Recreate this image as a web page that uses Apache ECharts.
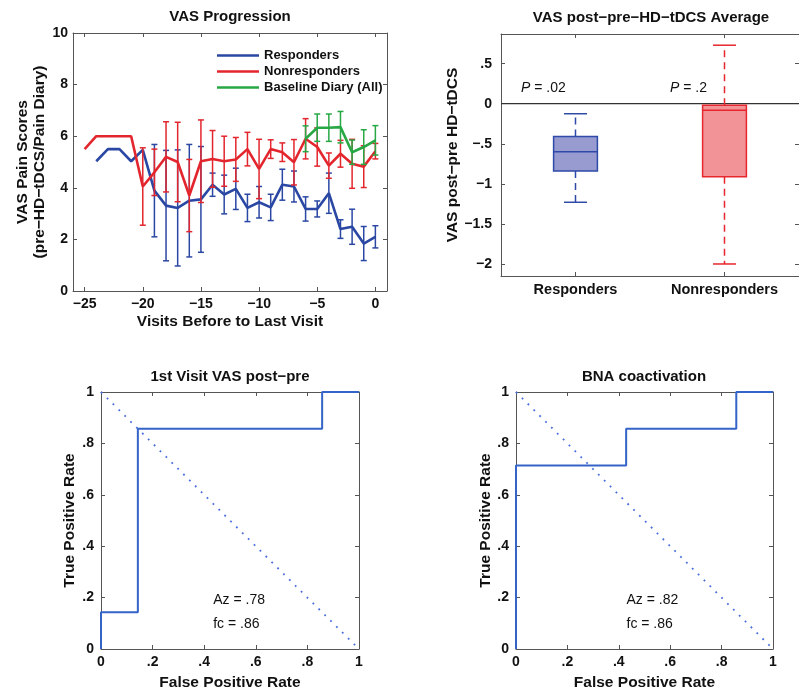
<!DOCTYPE html>
<html><head><meta charset="utf-8">
<script src="https://cdn.jsdelivr.net/npm/echarts@6/dist/echarts.min.js"></script>
<style>html,body{margin:0;padding:0;background:#fff}#c{width:799px;height:692px}</style>
</head><body><div id="c"></div>
<script>
// ---------- DATA ----------
const visits = [-25,-24,-23,-22,-21,-20,-19,-18,-17,-16,-15,-14,-13,-12,-11,-10,-9,-8,-7,-6,-5,-4,-3,-2,-1,0];
const respMean = [null,5.03,5.5,5.5,5.03,5.47,3.89,3.31,3.22,3.5,3.55,4.12,3.74,3.96,3.22,3.44,3.24,4.12,4.05,3.18,3.18,3.79,2.4,2.49,1.84,2.1];
const respErr  = [null,null,null,null,null,null,1.79,2.14,2.25,2.18,2.05,0.45,0.75,0.8,0.53,0.61,0.51,0.6,0.6,0.47,0.31,0.78,0.36,0.68,0.66,0.43];
const nonMean  = [5.5,6.0,6.0,6.0,6.0,4.05,4.6,5.2,5.0,3.7,5.03,5.12,5.03,5.1,5.5,4.73,5.5,5.38,4.99,5.9,5.58,4.86,5.32,4.93,4.82,5.42];
const nonErr   = [null,null,null,null,null,1.5,0.9,1.36,1.54,1.4,1.6,1.1,0.97,0.85,0.65,1.15,0.36,0.36,0.88,0.78,0.74,0.49,0.52,0.95,0.81,0.3];
const baseVisits = [-6,-5,-4,-3,-2,-1,0];
const baseMean = [5.9,6.33,6.33,6.35,5.38,5.58,5.84];
const baseErr  = [0.5,0.53,0.53,0.61,0.47,0.67,0.57];
const progXTicks = [-25,-20,-15,-10,-5,0];

const boxGroups = ['Responders','Nonresponders'];
// [min, Q1, median, Q3, max]
const boxResp = [-1.23,-0.84,-0.6,-0.41,-0.125];
const boxNon  = [-2.0,-0.91,-0.08,-0.02,0.73];
const boxYTicks = [-2,-1.5,-1,-0.5,0,0.5];
const refLine = [0];

const rocVisitFPR = [0,0,1/7,1/7,6/7,6/7,1];
const rocVisitTPR = [0,1/7,1/7,6/7,6/7,1,1];
const rocBnaFPR = [0,0,3/7,3/7,6/7,6/7,1];
const rocBnaTPR = [0,5/7,5/7,6/7,6/7,1,1];
const chanceFPR = [0,1];
const chanceTPR = [1,0];

// ---------- STYLE ----------
const FF = '"Liberation Sans", Arial, Helvetica, sans-serif';
const AX = '#555';
const TXT = '#111';
const BLUE = '#2a47a3', RED = '#e3262d', GREEN = '#27a844';
const ROC = '#3564c8', DOT = '#4a6ddc';
const NAME_FS = 15.5;

function mfmt(v){
  let s = String(Math.round(v*1000)/1000);
  let neg = s[0] === '-'; if (neg) s = s.slice(1);
  if (s.startsWith('0.')) s = s.slice(1);
  return (neg ? '\u2212' : '') + s;
}
const pair = (a,b) => a.map((v,i)=>[v,b[i]]);

function axisBase(extra){
  return Object.assign({
    axisLine:{show:true,onZero:false,lineStyle:{color:AX,width:1}},
    axisTick:{show:true,inside:true,length:4,lineStyle:{color:AX,width:1}},
    splitLine:{show:false},
    axisLabel:{fontFamily:FF,fontWeight:'bold',fontSize:14,color:TXT,formatter:mfmt},
    nameTextStyle:{fontFamily:FF,fontWeight:'bold',fontSize:NAME_FS,color:TXT},
    nameLocation:'middle'
  }, extra);
}
function mirror(extra){
  const a = axisBase(extra);
  a.axisLabel = Object.assign({}, a.axisLabel, {show:false});
  return a;
}

function errRender(color){
  return function(params, api){
    const x = api.value(0), m = api.value(1), e = api.value(2);
    const t = api.coord([x, m+e]), b = api.coord([x, m-e]);
    const cw = 3, st = {stroke:color, lineWidth:1.5};
    return {type:'group', children:[
      {type:'line', shape:{x1:t[0],y1:t[1],x2:b[0],y2:b[1]}, style:st},
      {type:'line', shape:{x1:t[0]-cw,y1:t[1],x2:t[0]+cw,y2:t[1]}, style:st},
      {type:'line', shape:{x1:b[0]-cw,y1:b[1],x2:b[0]+cw,y2:b[1]}, style:st}
    ]};
  };
}
function errData(xs, ms, es){
  const out = [];
  xs.forEach((x,i)=>{ if (es[i] != null && ms[i] != null) out.push([x, ms[i], es[i]]); });
  return out;
}

const boxStyles = [
  {stroke:'#2e4aa8', fill:'#979bd0'},
  {stroke:'#e8262d', fill:'#f19397'}
];

const notes = [
  {grid:2, x:0.435, y:0.19, text:'Az = .78'},
  {grid:2, x:0.435, y:0.095, text:'fc = .86'},
  {grid:3, x:0.43, y:0.19, text:'Az = .82'},
  {grid:3, x:0.43, y:0.095, text:'fc = .86'}
];
function noteSeries(gridNo, axisIdx){
  const list = notes.filter(n=>n.grid===gridNo);
  return {name:'notes'+gridNo, type:'custom', xAxisIndex:axisIdx, yAxisIndex:axisIdx, z:5,
    data:list.map(n=>[n.x,n.y]),
    renderItem:function(params, api){
      const n = list[params.dataIndex];
      const p = api.coord([api.value(0), api.value(1)]);
      return {type:'text', x:p[0], y:p[1], style:{text:n.text, font:'14px '+FF, fill:TXT, textVerticalAlign:'middle'}};
    }};
}

const chart = echarts.init(document.getElementById('c'), null, {renderer:'canvas'});
const option = {
  animation:false,
  backgroundColor:'#fff',
  grid:[
    {left:73, top:33, width:314, height:258},
    {left:501, top:34, width:300, height:242},
    {left:101, top:392, width:258, height:257},
    {left:516, top:392, width:257, height:257}
  ],
  xAxis:[
    axisBase({gridIndex:0, type:'value', min:-26, max:1, name:'Visits Before to Last Visit', nameGap:23,
      axisTick:{show:true,inside:true,length:4,lineStyle:{color:AX},customValues:progXTicks},
      axisLabel:{fontFamily:FF,fontWeight:'bold',fontSize:14,color:TXT,margin:6,formatter:mfmt,customValues:progXTicks}}),
    mirror({gridIndex:0, type:'value', position:'top', min:-26, max:1,
      axisTick:{show:true,inside:true,length:4,lineStyle:{color:AX},customValues:progXTicks}}),
    axisBase({gridIndex:1, type:'category', data:boxGroups, boundaryGap:true,
      axisTick:{show:true,inside:true,length:4,alignWithLabel:true,lineStyle:{color:AX}},
      axisLabel:{fontFamily:FF,fontWeight:'bold',fontSize:14.5,color:TXT,margin:6}}),
    mirror({gridIndex:1, type:'category', data:boxGroups, boundaryGap:true, position:'top',
      axisTick:{show:true,inside:true,length:4,alignWithLabel:true,lineStyle:{color:AX}}}),
    axisBase({gridIndex:2, type:'value', min:0, max:1, interval:0.2, name:'False Positive Rate', nameGap:26,
      axisLabel:{fontFamily:FF,fontWeight:'bold',fontSize:14,color:TXT,margin:6,formatter:mfmt}}),
    mirror({gridIndex:2, type:'value', min:0, max:1, interval:0.2, position:'top'}),
    axisBase({gridIndex:3, type:'value', min:0, max:1, interval:0.2, name:'False Positive Rate', nameGap:26,
      axisLabel:{fontFamily:FF,fontWeight:'bold',fontSize:14,color:TXT,margin:6,formatter:mfmt}}),
    mirror({gridIndex:3, type:'value', min:0, max:1, interval:0.2, position:'top'})
  ],
  yAxis:[
    axisBase({gridIndex:0, type:'value', min:0, max:10, interval:2,
      name:'VAS Pain Scores\n(pre\u2212HD\u2212tDCS/Pain Diary)', nameGap:24,
      nameTextStyle:{fontFamily:FF,fontWeight:'bold',fontSize:NAME_FS,color:TXT,lineHeight:17},
      axisLabel:{fontFamily:FF,fontWeight:'bold',fontSize:14,color:TXT,margin:5}}),
    mirror({gridIndex:0, type:'value', min:0, max:10, interval:2, position:'right'}),
    axisBase({gridIndex:1, type:'value', min:-2.15, max:0.87, name:'VAS post\u2212pre HD\u2212tDCS', nameGap:36,
      axisTick:{show:true,inside:true,length:4,lineStyle:{color:AX},customValues:boxYTicks},
      axisLabel:{fontFamily:FF,fontWeight:'bold',fontSize:14,color:TXT,margin:9,formatter:mfmt,customValues:boxYTicks}}),
    mirror({gridIndex:1, type:'value', min:-2.15, max:0.87, position:'right',
      axisTick:{show:true,inside:true,length:4,lineStyle:{color:AX},customValues:boxYTicks}}),
    axisBase({gridIndex:2, type:'value', min:0, max:1, interval:0.2, name:'True Positive Rate', nameGap:23,
      axisLabel:{fontFamily:FF,fontWeight:'bold',fontSize:14,color:TXT,margin:7,formatter:mfmt}}),
    mirror({gridIndex:2, type:'value', min:0, max:1, interval:0.2, position:'right'}),
    axisBase({gridIndex:3, type:'value', min:0, max:1, interval:0.2, name:'True Positive Rate', nameGap:21,
      axisLabel:{fontFamily:FF,fontWeight:'bold',fontSize:14,color:TXT,margin:7,formatter:mfmt}}),
    mirror({gridIndex:3, type:'value', min:0, max:1, interval:0.2, position:'right'})
  ],
  legend:{
    data:['Responders','Nonresponders','Baseline Diary (All)'],
    orient:'vertical', left:212, top:44, icon:'rect', itemWidth:42, itemHeight:2.5, itemGap:3,
    textStyle:{fontFamily:FF,fontWeight:'bold',fontSize:13,color:TXT},
    selectedMode:false
  },
  graphic:[
    {type:'text', x:230, y:17, style:{text:'VAS Progression', font:'bold 15px '+FF, fill:TXT, textAlign:'center', textVerticalAlign:'middle'}},
    {type:'text', x:651, y:18, style:{text:'VAS post\u2212pre\u2212HD\u2212tDCS Average', font:'bold 15px '+FF, fill:TXT, textAlign:'center', textVerticalAlign:'middle'}},
    {type:'text', x:230, y:377, style:{text:'1st Visit VAS post\u2212pre', font:'bold 15px '+FF, fill:TXT, textAlign:'center', textVerticalAlign:'middle'}},
    {type:'text', x:644, y:377, style:{text:'BNA coactivation', font:'bold 15px '+FF, fill:TXT, textAlign:'center', textVerticalAlign:'middle'}},
    {type:'text', x:521, y:88, style:{text:'{i|P} = .02', font:'14px '+FF, fill:TXT, textVerticalAlign:'middle',
      rich:{i:{fontStyle:'italic',fontSize:14,fontFamily:FF,fill:TXT}}}},
    {type:'text', x:670, y:88, style:{text:'{i|P} = .2', font:'14px '+FF, fill:TXT, textVerticalAlign:'middle',
      rich:{i:{fontStyle:'italic',fontSize:14,fontFamily:FF,fill:TXT}}}}
  ],
  series:[
    {name:'respErr', type:'custom', xAxisIndex:0, yAxisIndex:0, renderItem:errRender(BLUE), data:errData(visits,respMean,respErr), z:2},
    {name:'Responders', type:'line', xAxisIndex:0, yAxisIndex:0, data:pair(visits,respMean), showSymbol:false, symbol:'none',
      lineStyle:{color:BLUE,width:2.6}, itemStyle:{color:BLUE}, z:3},
    {name:'nonErr', type:'custom', xAxisIndex:0, yAxisIndex:0, renderItem:errRender(RED), data:errData(visits,nonMean,nonErr), z:4},
    {name:'Nonresponders', type:'line', xAxisIndex:0, yAxisIndex:0, data:pair(visits,nonMean), showSymbol:false, symbol:'none',
      lineStyle:{color:RED,width:2.6}, itemStyle:{color:RED}, z:5},
    {name:'baseErr', type:'custom', xAxisIndex:0, yAxisIndex:0, renderItem:errRender(GREEN), data:errData(baseVisits,baseMean,baseErr), z:6},
    {name:'Baseline Diary (All)', type:'line', xAxisIndex:0, yAxisIndex:0, data:pair(baseVisits,baseMean), showSymbol:false, symbol:'none',
      lineStyle:{color:GREEN,width:2.6}, itemStyle:{color:GREEN}, z:7},

    {name:'zero', type:'custom', xAxisIndex:2, yAxisIndex:2, data:refLine.map(v=>[0,v]), z:2,
      renderItem:function(params, api){
        const cs = params.coordSys; const y = api.coord([0, api.value(1)])[1];
        return {type:'line', shape:{x1:cs.x,y1:y,x2:cs.x+cs.width,y2:y}, style:{stroke:'#333',lineWidth:1.2}};
      }},
    {name:'boxes', type:'custom', xAxisIndex:2, yAxisIndex:2, z:3,
      data:[[0].concat(boxResp),[1].concat(boxNon)],
      encode:{x:0, y:[1,2,3,4,5]},
      renderItem:function(params, api){
        const i = api.value(0);
        const mn = api.value(1), q1 = api.value(2), md = api.value(3), q3 = api.value(4), mx = api.value(5);
        const band = api.size([1,0])[0];
        const hw = band*0.147, cw = band*0.077;
        const cx = api.coord([i, md])[0];
        const yMn = api.coord([i, mn])[1], yQ1 = api.coord([i, q1])[1], yMd = api.coord([i, md])[1];
        const yQ3 = api.coord([i, q3])[1], yMx = api.coord([i, mx])[1];
        const s = boxStyles[i];
        const dash = {stroke:s.stroke, lineWidth:1.5, lineDash:[7,5]};
        const solid = {stroke:s.stroke, lineWidth:1.5};
        return {type:'group', children:[
          {type:'line', shape:{x1:cx,y1:yQ3,x2:cx,y2:yMx}, style:dash},
          {type:'line', shape:{x1:cx,y1:yQ1,x2:cx,y2:yMn}, style:dash},
          {type:'line', shape:{x1:cx-cw,y1:yMx,x2:cx+cw,y2:yMx}, style:solid},
          {type:'line', shape:{x1:cx-cw,y1:yMn,x2:cx+cw,y2:yMn}, style:solid},
          {type:'rect', shape:{x:cx-hw, y:yQ3, width:2*hw, height:yQ1-yQ3}, style:{fill:s.fill, stroke:s.stroke, lineWidth:1.5}},
          {type:'line', shape:{x1:cx-hw,y1:yMd,x2:cx+hw,y2:yMd}, style:solid}
        ]};
      }},

    {name:'chance1', type:'line', xAxisIndex:4, yAxisIndex:4, data:pair(chanceFPR,chanceTPR), showSymbol:false, symbol:'none',
      lineStyle:{color:DOT,width:1.8,type:[1.8,6.5]}, z:2},
    {name:'roc1', type:'line', xAxisIndex:4, yAxisIndex:4, data:pair(rocVisitFPR,rocVisitTPR), showSymbol:false, symbol:'none',
      lineStyle:{color:ROC,width:2}, z:3},
    {name:'chance2', type:'line', xAxisIndex:6, yAxisIndex:6, data:pair(chanceFPR,chanceTPR), showSymbol:false, symbol:'none',
      lineStyle:{color:DOT,width:1.8,type:[1.8,6.5]}, z:2},
    {name:'roc2', type:'line', xAxisIndex:6, yAxisIndex:6, data:pair(rocBnaFPR,rocBnaTPR), showSymbol:false, symbol:'none',
      lineStyle:{color:ROC,width:2}, z:3},
    noteSeries(2, 4),
    noteSeries(3, 6)
  ]
};
chart.setOption(option);
</script>
</body></html>
